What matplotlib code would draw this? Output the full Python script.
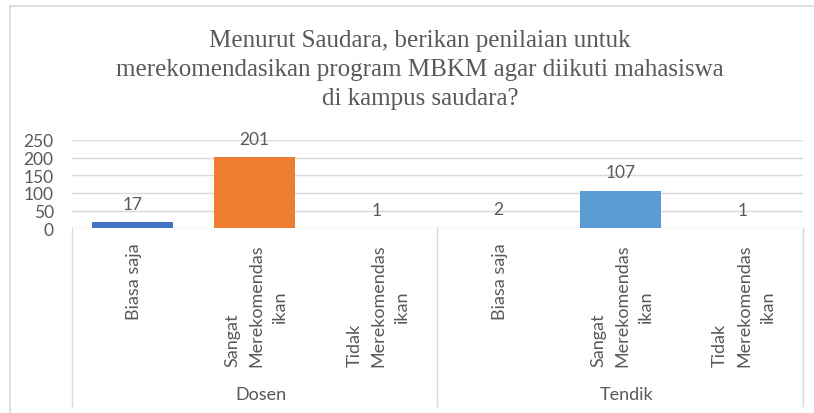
import matplotlib
matplotlib.use('Agg')
import matplotlib.pyplot as plt
import matplotlib.transforms as mtransforms
from matplotlib.lines import Line2D

# ---- data ----
groups = ['Dosen', 'Tendik']
categories = ['Biasa saja', 'Sangat Merekomendasikan', 'Tidak Merekomendasikan']
category_lines = [['Biasa saja'],
                  ['Sangat', 'Merekomendas', 'ikan'],
                  ['Tidak', 'Merekomendas', 'ikan']]
values = [17, 201, 1, 2, 107, 1]
bar_colors = ['#4472C4', '#ED7D31', '#A5A5A5', '#FFC000', '#5B9BD5', '#70AD47']
yticks = [0, 50, 100, 150, 200, 250]
title = ('Menurut Saudara, berikan penilaian untuk\n'
         'merekomendasikan program MBKM agar diikuti mahasiswa\n'
         'di kampus saudara?')

W, H = 814, 414
TXT = '#595959'
GRID = '#D9D9D9'
FONT = 'Lato'
FS_CAT = 13
FS_NUM = 12.5

fig = plt.figure(figsize=(W / 100, H / 100), dpi=100)
ax_left, ax_right, ax_top, ax_bot = 71.7, 803.3, 141.0, 229.3
ax = fig.add_axes([ax_left / W, 1 - ax_bot / H, (ax_right - ax_left) / W, (ax_bot - ax_top) / H])

n = len(values)
x = list(range(n))
ax.bar(x, values, width=0.665, color=bar_colors, zorder=3)
ax.set_xlim(-0.5, n - 0.5)
ax.set_ylim(0, 250)
ax.set_yticks(yticks)
ax.set_yticklabels([str(t) for t in yticks], fontsize=FS_NUM, color=TXT, family=FONT)
ax.tick_params(axis='y', length=0, pad=13)
ax.set_xticks([])
ax.yaxis.grid(True, color=GRID, linewidth=1.0, zorder=0)
for s in ax.spines.values():
    s.set_visible(False)

# data labels
for xi, v in zip(x, values):
    ax.annotate(str(v), (xi, v), xytext=(0, 9.6), textcoords='offset points',
                ha='center', va='baseline', fontsize=FS_NUM, color=TXT, family=FONT)

# category labels (rotated)
bt = mtransforms.blended_transform_factory(ax.transData, fig.transFigure)
slot_px = (ax_right - ax_left) / n
dx = 24.0 / slot_px
ncat = len(categories)
for gi in range(len(groups)):
    for ci, lines in enumerate(category_lines):
        xc = gi * ncat + ci
        if len(lines) == 1:
            ax.text(xc + 0.01, 1 - 243 / H, lines[0], transform=bt, rotation=90,
                    ha='center', va='top', fontsize=FS_CAT, color=TXT, family=FONT)
        else:
            for li, t in enumerate(lines):
                xx = xc + (li - 1) * dx + 0.015
                if li < 2:
                    ax.text(xx, 1 - 367 / H, t, transform=bt, rotation=90,
                            ha='center', va='bottom', fontsize=FS_CAT, color=TXT, family=FONT)
                else:
                    ax.text(xx, 1 - 306.5 / H, t, transform=bt, rotation=90,
                            ha='center', va='center', fontsize=FS_CAT, color=TXT, family=FONT)
    ax.text(gi * ncat + (ncat - 1) / 2 + 0.05, 1 - 395 / H, groups[gi], transform=bt,
            ha='center', va='center', fontsize=FS_CAT, color=TXT, family=FONT)

# group separators
for k in range(len(groups) + 1):
    xs = k * ncat - 0.5
    ax.add_line(Line2D([xs, xs], [1 - ax_bot / H, 1 - 407 / H], transform=bt,
                       color=GRID, linewidth=1.0, clip_on=False))

# chart border (left and top)
fig.add_artist(Line2D([10 / W, 10 / W], [0, 1 - 7 / H], transform=fig.transFigure,
                      color=GRID, linewidth=1.2))
fig.add_artist(Line2D([10 / W, 1], [1 - 7 / H, 1 - 7 / H], transform=fig.transFigure,
                      color=GRID, linewidth=1.2))

# title
fig.text(420 / W, 1 - 30 / H, title, ha='center', va='top', fontsize=18,
         family='Liberation Serif', color=TXT, linespacing=1.4)

fig.savefig('out.png', dpi=100)
